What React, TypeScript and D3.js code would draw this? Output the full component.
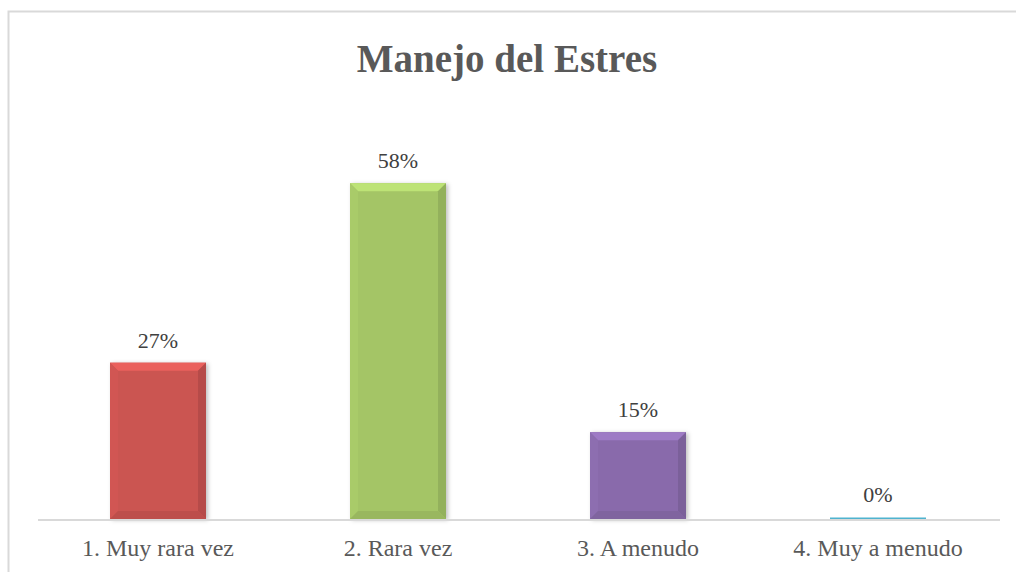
import React, { useEffect, useRef } from 'react';
import * as d3 from 'd3';

const categories = ['1. Muy rara vez', '2. Rara vez', '3. A menudo', '4. Muy a menudo'];
const values = [27, 58, 15, 0];
const labels = ['27%', '58%', '15%', '0%'];
const colors = ['#cb5451', '#a4c566', '#896bab', '#4fb3cf'];

const SERIF = '"Liberation Serif", "Times New Roman", Times, serif';

function App() {
    const svgRef = useRef<SVGSVGElement>(null);

    useEffect(() => {
        const svg = d3.select(svgRef.current);
        svg.selectAll('*').remove();

        const left = 38, right = 998, bottom = 519;

        // chart border (only top and left edges are visible in the crop)
        svg.append('path')
            .attr('d', 'M8.5,572 L8.5,11.5 L1016,11.5')
            .attr('fill', 'none').attr('stroke', '#d9d9d9').attr('stroke-width', 2);

        // title
        svg.append('text')
            .attr('x', 507).attr('y', 72)
            .attr('text-anchor', 'middle')
            .attr('font-family', SERIF)
            .attr('font-weight', 'bold')
            .attr('font-size', 39)
            .attr('fill', '#595959')
            .text('Manejo del Estres');

        const x = d3.scaleBand().domain(categories).range([left, right]).paddingInner(0.6).paddingOuter(0.3);
        const y = d3.scaleLinear().domain([0, 70]).range([bottom, bottom - 405.3]);

        const defs = svg.append('defs');
        const f = defs.append('filter').attr('id', 'shadow').attr('x', '-20%').attr('y', '-20%').attr('width', '140%').attr('height', '140%');
        f.append('feDropShadow').attr('dx', 2).attr('dy', 1).attr('stdDeviation', 2).attr('flood-color', '#000').attr('flood-opacity', 0.25);

        const bars = svg.append('g');
        categories.forEach((c, i) => {
            const x0 = x(c)!;
            const w = x.bandwidth();
            const y0 = y(values[i]);
            const h = bottom - y0;
            const g = bars.append('g');
            if (h < 1) {
                g.append('rect').attr('x', x0).attr('y', bottom - 1.5).attr('width', w).attr('height', 2).attr('fill', colors[i]);
                return;
            }
            const base = d3.color(colors[i])!;
            g.append('rect').attr('x', x0).attr('y', y0).attr('width', w).attr('height', h)
                .attr('fill', colors[i]).attr('filter', 'url(#shadow)');
            const b = Math.min(8, h / 2, w / 2);
            const x1 = x0 + w, y1 = bottom;
            const poly = (pts: number[][], fill: string) =>
                g.append('polygon').attr('points', pts.map(p => p.join(',')).join(' ')).attr('fill', fill);
            poly([[x0, y0], [x1, y0], [x1 - b, y0 + b], [x0 + b, y0 + b]], base.brighter(0.4).toString());
            poly([[x0, y0], [x0 + b, y0 + b], [x0 + b, y1 - b], [x0, y1]], base.brighter(0.08).toString());
            poly([[x1, y0], [x1, y1], [x1 - b, y1 - b], [x1 - b, y0 + b]], base.darker(0.3).toString());
            poly([[x0, y1], [x0 + b, y1 - b], [x1 - b, y1 - b], [x1, y1]], base.darker(0.2).toString());
        });

        // axis line
        svg.append('line')
            .attr('x1', left).attr('x2', right + 2)
            .attr('y1', bottom + 1).attr('y2', bottom + 1)
            .attr('stroke', '#d9d9d9').attr('stroke-width', 2);

        // data labels
        svg.append('g').selectAll('text').data(categories).join('text')
            .attr('x', d => x(d)! + x.bandwidth() / 2)
            .attr('y', (d, i) => y(values[i]) - (values[i] === 0 ? 17 : 15))
            .attr('text-anchor', 'middle')
            .attr('font-family', SERIF)
            .attr('font-size', 22)
            .attr('fill', '#404040')
            .text((d, i) => labels[i]);

        // category labels
        svg.append('g').selectAll('text').data(categories).join('text')
            .attr('x', d => x(d)! + x.bandwidth() / 2)
            .attr('y', 556)
            .attr('text-anchor', 'middle')
            .attr('font-family', SERIF)
            .attr('font-size', 24)
            .attr('fill', '#595959')
            .text(d => d);
    }, []);

    return (
        <svg ref={svgRef} width={1016} height={572}
            style={{ position: 'absolute', left: 0, top: 0, display: 'block' }} />
    );
}

export default App;
